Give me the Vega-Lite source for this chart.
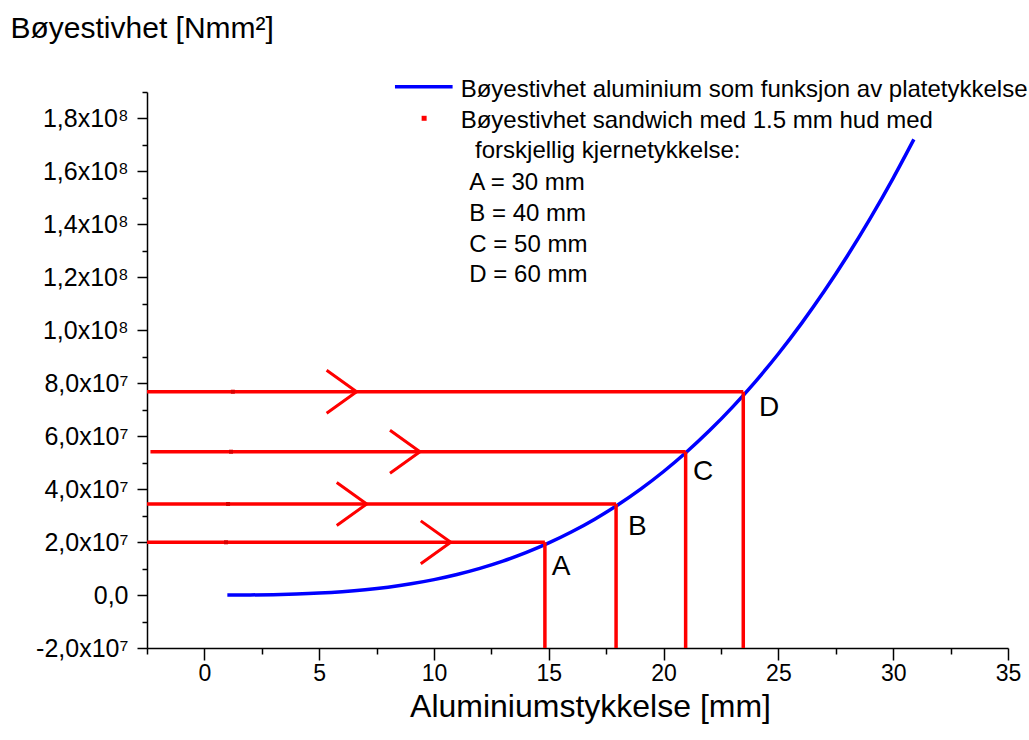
{
  "$schema": "https://vega.github.io/schema/vega-lite/v6.json",
  "width": 861,
  "height": 556,
  "autosize": {"type": "none"},
  "padding": {"left": 147, "top": 92, "right": 21, "bottom": 92},
  "background": "white",
  "config": {
    "view": {"stroke": null},
    "axis": {
      "grid": false,
      "domainColor": "black",
      "tickColor": "black",
      "domainWidth": 1.5,
      "tickWidth": 1.5,
      "labelFont": "Liberation Sans",
      "labelColor": "black",
      "titleFont": "Liberation Sans",
      "titleFontWeight": "normal",
      "titleColor": "black",
      "labelFlush": false,
      "labelOverlap": false
    }
  },
  "datasets": {
    "curve": [
      {"x": 1, "y": 5833},
      {"x": 2, "y": 46667},
      {"x": 3, "y": 157500},
      {"x": 4, "y": 373333},
      {"x": 5, "y": 729167},
      {"x": 6, "y": 1260000},
      {"x": 7, "y": 2000833},
      {"x": 8, "y": 2986667},
      {"x": 9, "y": 4252500},
      {"x": 10, "y": 5833333},
      {"x": 11, "y": 7764167},
      {"x": 12, "y": 10080000},
      {"x": 13, "y": 12815833},
      {"x": 14, "y": 16006667},
      {"x": 15, "y": 19687500},
      {"x": 16, "y": 23893333},
      {"x": 17, "y": 28659167},
      {"x": 18, "y": 34020000},
      {"x": 19, "y": 40009167},
      {"x": 20, "y": 46666667},
      {"x": 21, "y": 54022500},
      {"x": 22, "y": 62113333},
      {"x": 23, "y": 70980833},
      {"x": 24, "y": 80640000},
      {"x": 25, "y": 91145833},
      {"x": 26, "y": 102526667},
      {"x": 27, "y": 114817500},
      {"x": 28, "y": 128053333},
      {"x": 29, "y": 142267500},
      {"x": 30, "y": 157500000},
      {"x": 30.9, "y": 172100000}
    ],
    "segments": [
      {"x": -2.5, "y": 19920000, "x2": 14.83, "y2": 19920000},
      {"x": 14.83, "y": 19920000, "x2": 14.83, "y2": -20000000},
      {"x": -2.5, "y": 34390000, "x2": 17.93, "y2": 34390000},
      {"x": 17.93, "y": 34390000, "x2": 17.93, "y2": -20000000},
      {"x": -2.35, "y": 54140000, "x2": 20.96, "y2": 54140000},
      {"x": 20.96, "y": 54140000, "x2": 20.96, "y2": -20000000},
      {"x": -2.5, "y": 76800000, "x2": 23.47, "y2": 76800000},
      {"x": 23.47, "y": 76800000, "x2": 23.47, "y2": -20000000}
    ],
    "arrows": [
      {"x": 10.73, "y": 19920000},
      {"x": 7.07, "y": 34390000},
      {"x": 9.39, "y": 54140000},
      {"x": 6.63, "y": 76800000}
    ],
    "dots": [
      {"x": 0.94, "y": 19920000},
      {"x": 1.03, "y": 34390000},
      {"x": 1.16, "y": 54140000},
      {"x": 1.24, "y": 76800000}
    ],
    "letters": [
      {"x": 15.13, "y": 7570000, "label": "A"},
      {"x": 18.45, "y": 22680000, "label": "B"},
      {"x": 21.28, "y": 43450000, "label": "C"},
      {"x": 24.15, "y": 67630000, "label": "D"}
    ],
    "legendLine": [
      {"x": 8.3, "y": 192000000, "x2": 10.81, "y2": 192000000}
    ],
    "legendDot": [
      {"x": 9.57, "y": 180070000}
    ],
    "legendText": [
      {"x": 11.16, "y": 188220000, "label": "Bøyestivhet aluminium som funksjon av platetykkelse"},
      {"x": 11.16, "y": 176290000, "label": "Bøyestivhet sandwich med 1.5 mm hud med"},
      {"x": 11.79, "y": 164960000, "label": "forskjellig kjernetykkelse:"},
      {"x": 11.54, "y": 152990000, "label": "A = 30 mm"},
      {"x": 11.54, "y": 141390000, "label": "B = 40 mm"},
      {"x": 11.54, "y": 129680000, "label": "C = 50 mm"},
      {"x": 11.54, "y": 118350000, "label": "D = 60 mm"}
    ]
  },
  "encoding": {
    "x": {
      "field": "x",
      "type": "quantitative",
      "scale": {"domain": [-2.5, 35], "nice": false, "zero": false},
      "axis": {
        "values": [-2.5, 0, 2.5, 5, 7.5, 10, 12.5, 15, 17.5, 20, 22.5, 25, 27.5, 30, 32.5, 35],
        "labelExpr": "datum.value % 5 == 0 ? datum.label : ''",
        "tickSize": {"condition": {"test": "datum.value % 5 == 0", "value": 12}, "value": 6},
        "labelPadding": 2,
        "labelFontSize": 23,
        "title": "Aluminiumstykkelse [mm]",
        "titleFontSize": 32,
        "titleX": 443,
        "titleY": 68,
        "titleBaseline": "alphabetic"
      }
    },
    "y": {
      "field": "y",
      "type": "quantitative",
      "scale": {"domain": [-20000000, 190000000], "nice": false, "zero": false},
      "axis": {
        "values": [-20000000, -10000000, 0, 10000000, 20000000, 30000000, 40000000, 50000000, 60000000, 70000000, 80000000, 90000000, 100000000, 110000000, 120000000, 130000000, 140000000, 150000000, 160000000, 170000000, 180000000, 190000000],
        "labelExpr": "datum.value % 20000000 != 0 ? '' : (datum.value == 0 ? '0,0' : (abs(datum.value) >= 100000000 ? replace(format(datum.value / 100000000, '.1f'), '.', ',') + 'x10⁸' : replace(replace(format(datum.value / 10000000, '.1f'), '.', ','), '−', '-') + 'x10⁷'))",
        "tickSize": {"condition": {"test": "datum.value % 20000000 == 0", "value": 10}, "value": 5},
        "labelPadding": 9,
        "labelFontSize": 25,
        "title": "Bøyestivhet [Nmm²]",
        "titleFontSize": 30,
        "titleAngle": 0,
        "titleAlign": "left",
        "titleBaseline": "alphabetic",
        "titleX": -137,
        "titleY": -55
      }
    }
  },
  "layer": [
    {
      "data": {"name": "curve"},
      "mark": {"type": "line", "color": "#0000ff", "strokeWidth": 3.5, "interpolate": "monotone"}
    },
    {
      "data": {"name": "segments"},
      "mark": {"type": "rule", "color": "#ff0000", "strokeWidth": 3.5},
      "encoding": {"x2": {"field": "x2"}, "y2": {"field": "y2"}}
    },
    {
      "data": {"name": "arrows"},
      "mark": {"type": "point", "shape": "M-2,-1.43L0,0L-2,1.43", "size": 900, "filled": false, "color": "#ff0000", "strokeWidth": 3, "opacity": 1}
    },
    {
      "data": {"name": "dots"},
      "mark": {"type": "square", "size": 16, "color": "#d80000", "opacity": 1, "filled": true}
    },
    {
      "data": {"name": "letters"},
      "mark": {"type": "text", "align": "left", "baseline": "alphabetic", "font": "Liberation Sans", "fontSize": 28, "color": "black"},
      "encoding": {"text": {"field": "label"}}
    },
    {
      "data": {"name": "legendLine"},
      "mark": {"type": "rule", "color": "#0000ff", "strokeWidth": 3.5},
      "encoding": {"x2": {"field": "x2"}, "y2": {"field": "y2"}}
    },
    {
      "data": {"name": "legendDot"},
      "mark": {"type": "square", "size": 25, "color": "#ff0000", "opacity": 1, "filled": true}
    },
    {
      "data": {"name": "legendText"},
      "mark": {"type": "text", "align": "left", "baseline": "alphabetic", "font": "Liberation Sans", "fontSize": 24, "color": "black"},
      "encoding": {"text": {"field": "label"}}
    }
  ]
}
